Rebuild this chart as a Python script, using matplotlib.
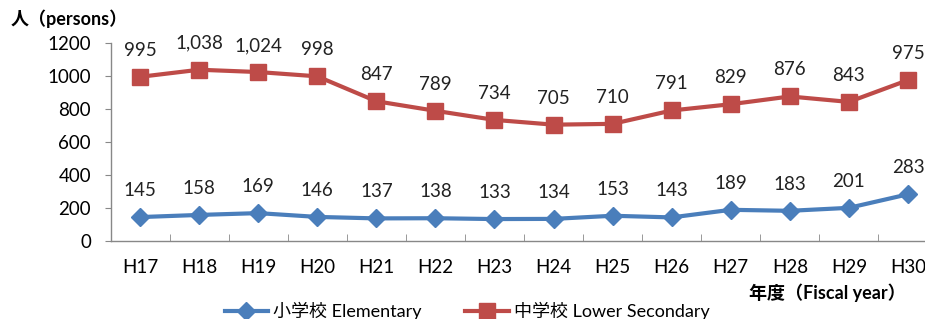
import matplotlib
matplotlib.use("Agg")
import matplotlib.pyplot as plt
import numpy as np

plt.rcParams["font.family"] = ["Lato", "Noto Sans CJK JP", "DejaVu Sans"]

years = ["H17", "H18", "H19", "H20", "H21", "H22", "H23",
         "H24", "H25", "H26", "H27", "H28", "H29", "H30"]
elementary = [145, 158, 169, 146, 137, 138, 133, 134, 153, 143, 189, 183, 201, 283]
lower_secondary = [995, 1038, 1024, 998, 847, 789, 734, 705, 710, 791, 829, 876, 843, 975]

blue = "#4A7EBB"
red = "#BE4B48"

fig = plt.figure(figsize=(9.25, 3.19), dpi=100)
ax = fig.add_axes([0.1195, 0.2445, 0.894, 0.6207])

x = np.arange(len(years))
ax.plot(x, elementary, color=blue, lw=3, marker="D", ms=9,
        markerfacecolor=blue, markeredgecolor=blue, label="小学校 Elementary")
ax.plot(x, lower_secondary, color=red, lw=3, marker="s", ms=11.5,
        markerfacecolor=red, markeredgecolor=red, label="中学校 Lower Secondary")

for xi, v in zip(x, elementary):
    ax.annotate(f"{v:,}", (xi, v), xytext=(0, 13), textcoords="offset points",
                ha="center", va="bottom", fontsize=13.5, color="#222222")
for xi, v in zip(x, lower_secondary):
    ax.annotate(f"{v:,}", (xi, v), xytext=(0, 13), textcoords="offset points",
                ha="center", va="bottom", fontsize=13.5, color="#222222")

ax.set_xlim(-0.5, len(years) - 0.5)
ax.set_ylim(0, 1200)
ax.set_yticks(range(0, 1201, 200))
ax.set_xticks(x)
ax.set_xticklabels(years)
ax.set_xticks(np.arange(0.5, len(years) - 0.5, 1), minor=True)
ax.tick_params(axis="x", which="major", length=0, pad=13, labelsize=13.5)
ax.tick_params(axis="x", which="minor", length=5, color="#888888", direction="in")
ax.tick_params(axis="y", length=4, color="#888888", labelsize=13.5, pad=10)

for s in ["top", "right"]:
    ax.spines[s].set_visible(False)
for s in ["left", "bottom"]:
    ax.spines[s].set_color("#888888")
    ax.spines[s].set_linewidth(1)

fig.text(0.011, 0.94, "人（persons）", fontsize=13, fontweight="bold", ha="left", va="center")
fig.text(0.81, 0.082, "年度（Fiscal year）", fontsize=13, fontweight="bold", ha="left", va="center")

fig.legend(loc="center", bbox_to_anchor=(0.505, 0.025), ncol=2, frameon=False,
           fontsize=13, handlelength=2.4, columnspacing=2.4, handletextpad=0.3)

fig.savefig("out.png", dpi=100)
